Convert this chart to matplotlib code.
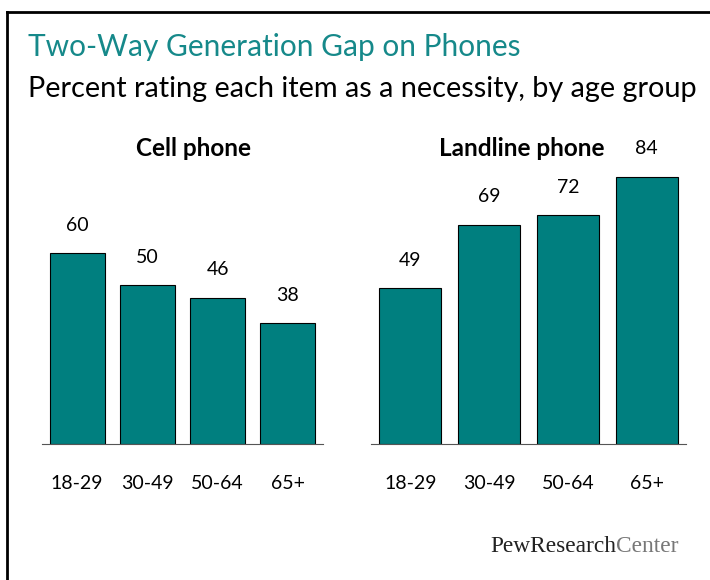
import matplotlib.pyplot as plt
from matplotlib.lines import Line2D

ages = ["18-29", "30-49", "50-64", "65+"]
cell_phone = [60, 50, 46, 38]
landline_phone = [49, 69, 72, 84]
panel_titles = ["Cell phone", "Landline phone"]

teal = "#007f7f"
plt.rcParams['font.family'] = ['Lato', 'DejaVu Sans']

fig = plt.figure(figsize=(7.1, 5.8), dpi=100)
W, H = 710, 580

# frame: only top and left edges are visible in the original
fig.add_artist(Line2D([7 / W, 7 / W], [0, 1 - 12 / H], color="black", lw=2))
fig.add_artist(Line2D([7 / W, 1], [1 - 12 / H, 1 - 12 / H], color="black", lw=2))

fig.text(28 / W, 1 - 47 / H, "Two-Way Generation Gap on Phones", color="#16898a",
         fontsize=21.5, va="center", ha="left")
fig.text(28 / W, 1 - 89 / H, "Percent rating each item as a necessity, by age group",
         color="black", fontsize=20.8, va="center", ha="left")

base = 444
scale = 3.18
ymax = 100
panels = [(42, 323, cell_phone, 0.78, 193), (371, 686, landline_phone, 0.79, 522)]

for (x0, x1, vals, bw, tx), title in zip(panels, panel_titles):
    ax = fig.add_axes([x0 / W, (H - base) / H, (x1 - x0) / W, ymax * scale / H])
    ax.bar(range(len(ages)), vals, width=bw, color=teal, edgecolor="black", linewidth=0.8)
    ax.set_xlim(-0.5, 3.5)
    ax.set_ylim(0, ymax)
    for i, v in enumerate(vals):
        ax.text(i, v + 8.8, str(v), ha="center", va="center", fontsize=14)
    ax.set_xticks(range(len(ages)))
    ax.set_xticklabels(ages, fontsize=14)
    ax.tick_params(axis="x", length=0, pad=22)
    ax.set_yticks([])
    for s in ["top", "right", "left"]:
        ax.spines[s].set_visible(False)
    ax.spines["bottom"].set_color("#555555")
    ax.patch.set_alpha(0)
    fig.text(tx / W, 1 - 148 / H, title, ha="center", va="center", fontsize=17.5,
             fontweight="bold")

t1 = fig.text(490 / W, 1 - 547 / H, "PewResearch", family="Liberation Serif", fontsize=16.8,
              color="#222222", va="center", ha="left")
fig.canvas.draw()
bb = t1.get_window_extent()
fig.text(bb.x1 / W, 1 - 547 / H, "Center", family="Liberation Serif", fontsize=16.8,
         color="#777777", va="center", ha="left")

fig.savefig("out.png", dpi=100)
